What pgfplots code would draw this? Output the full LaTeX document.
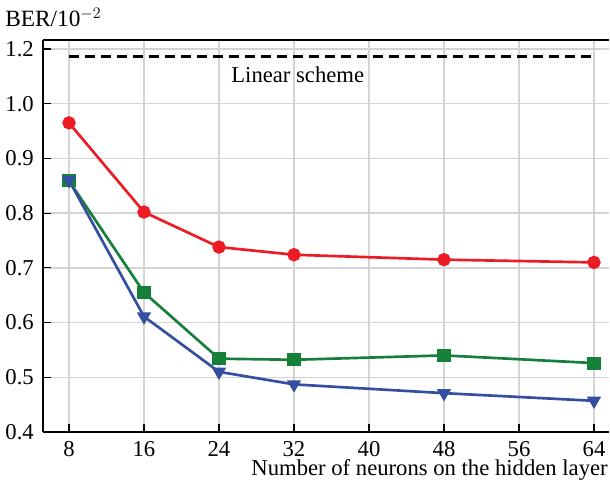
\documentclass[border=0pt]{standalone}
\usepackage{pgfplots}
\pgfplotsset{compat=1.18}
\usepackage{fontspec}
\setmainfont{Liberation Serif}
\definecolor{cred}{RGB}{236,28,36}
\definecolor{cgreen}{RGB}{22,128,58}
\definecolor{cblue}{RGB}{52,78,162}
\definecolor{cgrid}{RGB}{212,212,212}
\begin{document}
\begin{tikzpicture}
\begin{axis}[
  scale only axis,
  width=424.5pt, height=294pt,
  xmin=5.227, xmax=65.6,
  ymin=0.4, ymax=1.1165,
  axis x line*=box,
  axis y line*=left,
  axis line style={black, line width=1.2pt},
  xtick={8,16,24,32,40,48,56,64},
  ytick={0.4,0.5,0.6,0.7,0.8,0.9,1.0,1.1},
  yticklabels={0.4,0.5,0.6,0.7,0.8,0.9,1.0,1.2},
  xtick pos=bottom,
  tick align=inside,
  major tick length=6pt,
  tick style={black, line width=0.9pt},
  grid=major,
  major grid style={cgrid, line width=1.1pt},
  /pgf/number format/assume math mode=true,
  ticklabel style={font=\fontsize{17}{20}\selectfont, inner sep=0pt},
  xticklabel style={yshift=-6.6pt},
  yticklabel style={xshift=-6.7pt},
  clip=false,
]
\addplot[black, line width=2.2pt, dash pattern=on 7.5pt off 4.5pt] coordinates {(8,1.087) (64,1.087)};
\node[font=\fontsize{17}{20}\selectfont] at (axis cs:32.4,1.053) {Linear scheme};
\addplot[cred, line width=2pt, mark=*, mark size=4pt, mark options={solid, fill=cred, draw=cred}]
  coordinates {(8,0.965) (16,0.802) (24,0.738) (32,0.724) (48,0.715) (64,0.710)};
\addplot[cgreen, line width=2pt, mark=square*, mark size=3.9pt, mark options={solid, fill=cgreen, draw=cgreen}]
  coordinates {(8,0.859) (16,0.655) (24,0.534) (32,0.532) (48,0.540) (64,0.526)};
\addplot[cblue, line width=2pt, mark=triangle*, mark size=4.2pt, mark options={solid, rotate=180, fill=cblue, draw=cblue}]
  coordinates {(8,0.860) (16,0.611) (24,0.510) (32,0.487) (48,0.471) (64,0.457)};
\node[anchor=base west, font=\fontsize{17.5}{20}\selectfont, inner sep=0pt] at ([xshift=-28.5pt, yshift=9.75pt]rel axis cs:0,1) {BER/10$^{-2}$};
\node[anchor=base east, font=\fontsize{17}{20}\selectfont, inner sep=0pt] at ([xshift=-0.75pt, yshift=-32.8pt]rel axis cs:1,0) {Number of neurons on the hidden layer};
\coordinate (bl) at ([xshift=-32.25pt, yshift=-36.75pt]rel axis cs:0,0);
\coordinate (tr) at ([xshift=0.75pt, yshift=30pt]rel axis cs:1,1);
\end{axis}
\pgfresetboundingbox
\useasboundingbox (bl) rectangle (tr);
\end{tikzpicture}
\end{document}
